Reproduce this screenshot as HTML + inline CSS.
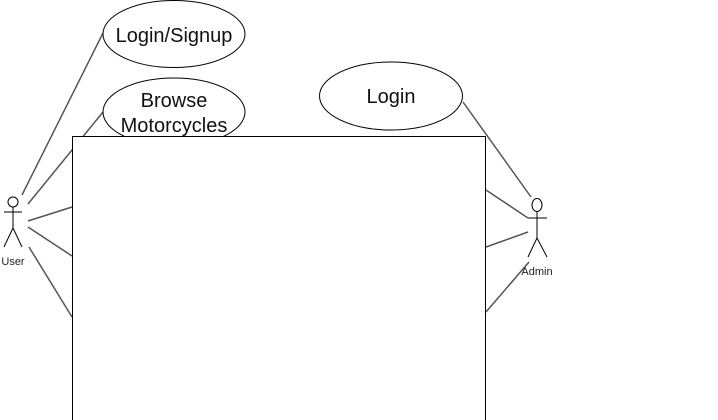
<!DOCTYPE html>
<html><head><meta charset="utf-8"><style>body{margin:0;background:#fff}svg{display:block}</style></head>
<body>
<svg width="718" height="420" xmlns="http://www.w3.org/2000/svg" font-family="Liberation Sans, Arial, sans-serif">
<g stroke="#555" stroke-width="1.5" fill="none">
<line x1="22" y1="195" x2="103" y2="33"/>
<line x1="28" y1="204" x2="103" y2="112"/>
<line x1="28" y1="221" x2="72" y2="207"/>
<line x1="28" y1="227" x2="72" y2="256"/>
<line x1="29" y1="247" x2="72" y2="317"/>
<line x1="463" y1="102" x2="531" y2="197"/>
<line x1="486" y1="190" x2="528" y2="218"/>
<line x1="486" y1="247" x2="528" y2="232"/>
<line x1="486" y1="312" x2="529" y2="262"/>
</g>
<g stroke="#000" stroke-width="1" fill="#fff">
<ellipse cx="174" cy="34" rx="71" ry="33.5"/>
<ellipse cx="174" cy="112" rx="71" ry="34"/>
<ellipse cx="391" cy="96" rx="71.5" ry="34"/>
<rect x="72.5" y="136.5" width="413" height="290"/>
</g>
<g font-size="20" fill="#111" text-anchor="middle">
<text x="174" y="42">Login/Signup</text>
<text x="174" y="107">Browse</text>
<text x="174" y="132">Motorcycles</text>
<text x="391" y="103">Login</text>
</g>
<g stroke="#000" stroke-width="1" fill="none">
<circle cx="13" cy="202" r="5" fill="#fff"/>
<line x1="13" y1="207" x2="13" y2="228"/>
<line x1="4" y1="212" x2="22" y2="212"/>
<line x1="13" y1="228" x2="4" y2="247"/>
<line x1="13" y1="228" x2="22" y2="247"/>
<ellipse cx="537" cy="205" rx="5" ry="6.5" fill="#fff"/>
<line x1="537" y1="211.5" x2="537" y2="238"/>
<line x1="528" y1="218" x2="547" y2="218"/>
<line x1="537" y1="238" x2="528" y2="257"/>
<line x1="537" y1="238" x2="547" y2="257"/>
</g>
<g font-size="11" fill="#222" text-anchor="middle">
<text x="13" y="265">User</text>
<text x="537" y="275">Admin</text>
</g>
</svg>
</body></html>
